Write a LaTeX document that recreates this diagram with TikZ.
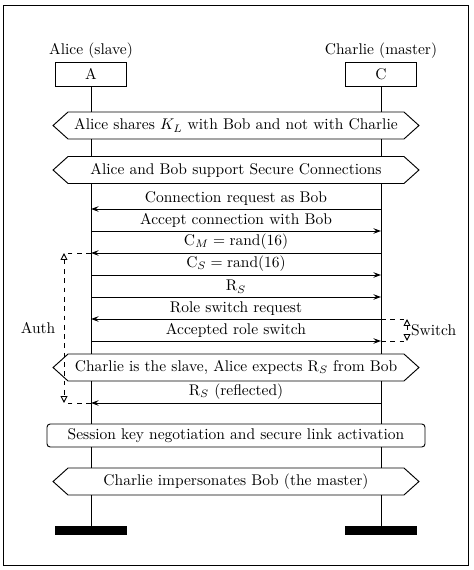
\documentclass[tikz,border=0pt]{standalone}
\usepackage{amsmath}
\usepackage{tikz}
\usetikzlibrary{arrows.meta,shapes.symbols}

\begin{document}
\begin{tikzpicture}[x=0.645pt,y=-0.645pt,semithick]
\tikzstyle{inst} = [draw, minimum width=45.8pt, minimum height=15.5pt, inner sep=0pt]
\tikzstyle{instend} = [fill=black, minimum width=45.8pt, minimum height=5.8pt, inner sep=0pt]
\tikzstyle{cond} = [draw, fill=white, signal, signal to=west and east, signal pointer angle=84,
                    minimum width=236pt, minimum height=17.4pt, inner sep=1pt]
\tikzstyle{action} = [draw, fill=white, rounded corners=2pt, minimum width=243.8pt, minimum height=14.8pt, inner sep=1pt]
\tikzstyle{msg} = [-{Stealth[length=5pt,width=3.6pt,inset=1.8pt]}]
\tikzstyle{meas} = [dashed, {Triangle[open,length=4.5pt,width=4.5pt]}-{Triangle[open,length=4.5pt,width=4.5pt]}]

\useasboundingbox (0,0) rectangle (473,570);
\draw (3,5) rectangle (468,565);

\node[inst] (A) at (91,74) {A};
\node[inst] (C) at (381,74) {C};
\node[above=-1.5pt] (Aname) at (A.north) {Alice (slave)};
\node[above=-1.5pt] (Cname) at (C.north) {Charlie (master)};
\node[instend] (Aend) at (91,530.5) {};
\node[instend] (Cend) at (381,530.5) {};
\draw (A.south) -- (Aend.north);
\draw (C.south) -- (Cend.north);

\foreach \n/\y in {1/209,2/231,3/253,4/275,5/297,6/319,7/341,8/403}{
  \coordinate (a\n) at (91,\y);
  \coordinate (c\n) at (381,\y);
}

\node[cond] (k1) at (236,125.5) {Alice shares $K_L$ with Bob and not with Charlie};
\node[cond] (k2) at (236,170) {Alice and Bob support Secure Connections};

\draw[msg] (c1) -- (a1) node[midway,above=-1.2pt] {Connection request as Bob};
\draw[msg] (a2) -- (c2) node[midway,above=-1.2pt] {Accept connection with Bob};
\draw[msg] (c3) -- (a3) node[midway,above=-1.2pt] {C$_M = \text{rand}(16)$};
\draw[msg] (a4) -- (c4) node[midway,above=-1.2pt] {C$_S = \text{rand}(16)$};
\draw[msg] (a5) -- (c5) node[midway,above=-1.2pt] {R$_S$};
\draw[msg] (c6) -- (a6) node[midway,above=-1.2pt] {Role switch request};
\draw[msg] (a7) -- (c7) node[midway,above=-1.2pt] {Accepted role switch};

\node[cond] (k3) at (236,367.5) {Charlie is the slave, Alice expects R$_S$ from Bob};

\draw[msg] (c8) -- (a8) node[midway,above=-1.2pt] {R$_S$ (reflected)};

\coordinate (auth1) at (64,253);
\coordinate (auth2) at (64,403);
\draw[dashed] (a3) -- (auth1);
\draw[dashed] (a8) -- (auth2);
\draw[meas] (auth1) -- (auth2) node[midway,left=2pt] {Auth};

\coordinate (sw1) at (407,319);
\coordinate (sw2) at (407,341);
\draw[dashed] (c6) -- (sw1);
\draw[dashed] (c7) -- (sw2);
\draw[meas] (sw1) -- (sw2) node[midway,right=-1pt] {Switch};

\node[action] (sk) at (236,435.5) {Session key negotiation and secure link activation};
\node[cond] (k4) at (236,481.5) {Charlie impersonates Bob (the master)};

\end{tikzpicture}
\end{document}
